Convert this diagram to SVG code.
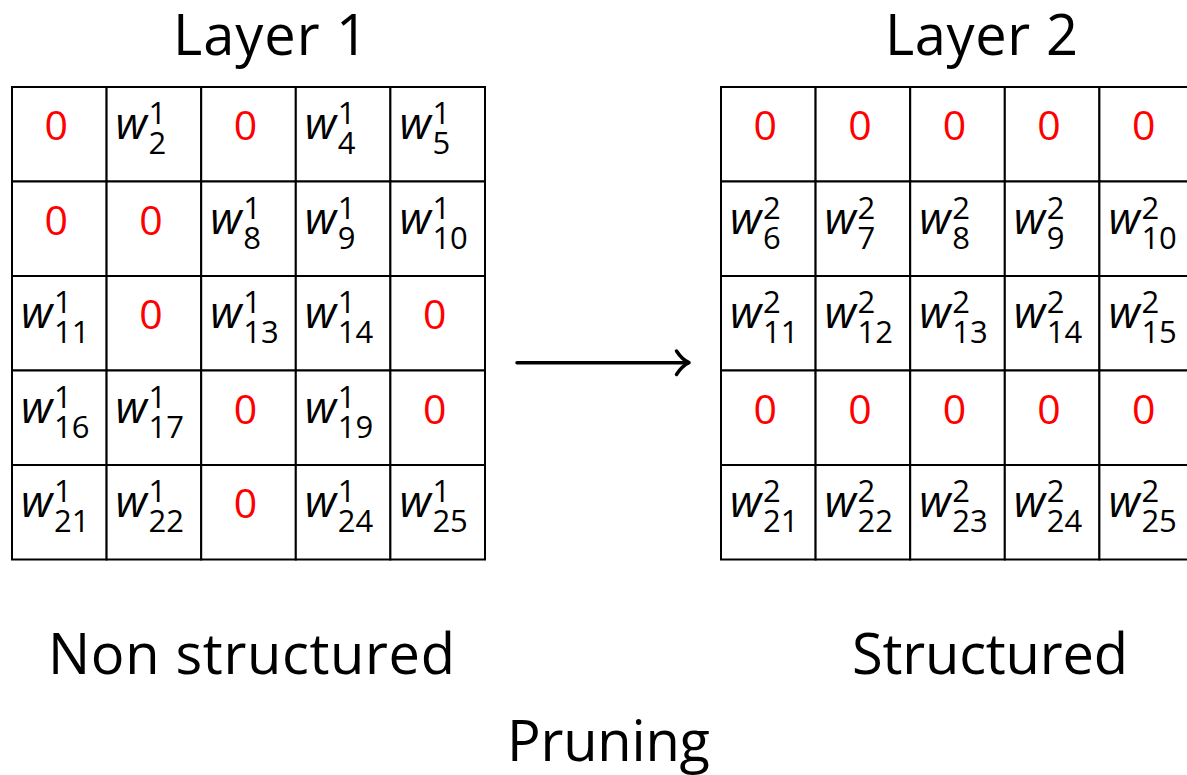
<svg xmlns="http://www.w3.org/2000/svg" width="1187" height="775" viewBox="0 0 1187 775">
  <style>
    .cell { fill: #ffffff; stroke: #000000; stroke-width: 2; }
    .label { font-family: "Open Sans", "Noto Sans", "Liberation Sans", sans-serif; font-size: 56px; fill: #000000; text-anchor: middle; }
    .zero { font-family: "Open Sans", "Noto Sans", "Liberation Sans", sans-serif; font-size: 41px; fill: #ff0000; text-anchor: middle; }
    .w { font-family: "Open Sans", "Noto Sans", "Liberation Sans", sans-serif; font-style: italic; font-size: 44px; fill: #000000; }
    .s { font-family: "Open Sans", "Noto Sans", "Liberation Sans", sans-serif; font-size: 31px; fill: #000000; }
    .arrow { fill: none; stroke: #000000; stroke-width: 3.5; stroke-linecap: round; stroke-linejoin: round; }
  </style>
  <rect width="1187" height="775" fill="#ffffff"/>

  <!-- titles -->
  <text class="label" x="270.5" y="55" textLength="195" lengthAdjust="spacing">Layer 1</text>
  <text class="label" x="981.5" y="55" textLength="193" lengthAdjust="spacing">Layer 2</text>

  <!-- Layer 1: non-structured pruning (scattered zeros) -->
  <g id="layer1">
    <g id="l1-r0">
      <rect class="cell" x="12" y="87" width="94.6" height="94.5"/><text class="zero" x="56.3" y="140">0</text>
      <rect class="cell" x="106.6" y="87" width="94.6" height="94.5"/><text class="w" x="115.6" y="139">w</text><text class="s" x="148.6" y="124">1</text><text class="s" x="148.6" y="154">2</text>
      <rect class="cell" x="201.2" y="87" width="94.6" height="94.5"/><text class="zero" x="245.5" y="140">0</text>
      <rect class="cell" x="295.8" y="87" width="94.6" height="94.5"/><text class="w" x="304.8" y="139">w</text><text class="s" x="337.8" y="124">1</text><text class="s" x="337.8" y="154">4</text>
      <rect class="cell" x="390.4" y="87" width="94.6" height="94.5"/><text class="w" x="399.4" y="139">w</text><text class="s" x="432.4" y="124">1</text><text class="s" x="432.4" y="154">5</text>
    </g>
    <g id="l1-r1">
      <rect class="cell" x="12" y="181.5" width="94.6" height="94.5"/><text class="zero" x="56.3" y="234.5">0</text>
      <rect class="cell" x="106.6" y="181.5" width="94.6" height="94.5"/><text class="zero" x="150.9" y="234.5">0</text>
      <rect class="cell" x="201.2" y="181.5" width="94.6" height="94.5"/><text class="w" x="210.2" y="233.5">w</text><text class="s" x="243.2" y="218.5">1</text><text class="s" x="243.2" y="248.5">8</text>
      <rect class="cell" x="295.8" y="181.5" width="94.6" height="94.5"/><text class="w" x="304.8" y="233.5">w</text><text class="s" x="337.8" y="218.5">1</text><text class="s" x="337.8" y="248.5">9</text>
      <rect class="cell" x="390.4" y="181.5" width="94.6" height="94.5"/><text class="w" x="399.4" y="233.5">w</text><text class="s" x="432.4" y="218.5">1</text><text class="s" x="432.4" y="248.5">10</text>
    </g>
    <g id="l1-r2">
      <rect class="cell" x="12" y="276" width="94.6" height="94.5"/><text class="w" x="21" y="328">w</text><text class="s" x="54" y="313">1</text><text class="s" x="54" y="343">11</text>
      <rect class="cell" x="106.6" y="276" width="94.6" height="94.5"/><text class="zero" x="150.9" y="329">0</text>
      <rect class="cell" x="201.2" y="276" width="94.6" height="94.5"/><text class="w" x="210.2" y="328">w</text><text class="s" x="243.2" y="313">1</text><text class="s" x="243.2" y="343">13</text>
      <rect class="cell" x="295.8" y="276" width="94.6" height="94.5"/><text class="w" x="304.8" y="328">w</text><text class="s" x="337.8" y="313">1</text><text class="s" x="337.8" y="343">14</text>
      <rect class="cell" x="390.4" y="276" width="94.6" height="94.5"/><text class="zero" x="434.7" y="329">0</text>
    </g>
    <g id="l1-r3">
      <rect class="cell" x="12" y="370.5" width="94.6" height="94.5"/><text class="w" x="21" y="422.5">w</text><text class="s" x="54" y="407.5">1</text><text class="s" x="54" y="437.5">16</text>
      <rect class="cell" x="106.6" y="370.5" width="94.6" height="94.5"/><text class="w" x="115.6" y="422.5">w</text><text class="s" x="148.6" y="407.5">1</text><text class="s" x="148.6" y="437.5">17</text>
      <rect class="cell" x="201.2" y="370.5" width="94.6" height="94.5"/><text class="zero" x="245.5" y="423.5">0</text>
      <rect class="cell" x="295.8" y="370.5" width="94.6" height="94.5"/><text class="w" x="304.8" y="422.5">w</text><text class="s" x="337.8" y="407.5">1</text><text class="s" x="337.8" y="437.5">19</text>
      <rect class="cell" x="390.4" y="370.5" width="94.6" height="94.5"/><text class="zero" x="434.7" y="423.5">0</text>
    </g>
    <g id="l1-r4">
      <rect class="cell" x="12" y="465" width="94.6" height="94.5"/><text class="w" x="21" y="517">w</text><text class="s" x="54" y="502">1</text><text class="s" x="54" y="532">21</text>
      <rect class="cell" x="106.6" y="465" width="94.6" height="94.5"/><text class="w" x="115.6" y="517">w</text><text class="s" x="148.6" y="502">1</text><text class="s" x="148.6" y="532">22</text>
      <rect class="cell" x="201.2" y="465" width="94.6" height="94.5"/><text class="zero" x="245.5" y="518">0</text>
      <rect class="cell" x="295.8" y="465" width="94.6" height="94.5"/><text class="w" x="304.8" y="517">w</text><text class="s" x="337.8" y="502">1</text><text class="s" x="337.8" y="532">24</text>
      <rect class="cell" x="390.4" y="465" width="94.6" height="94.5"/><text class="w" x="399.4" y="517">w</text><text class="s" x="432.4" y="502">1</text><text class="s" x="432.4" y="532">25</text>
    </g>
  </g>

  <!-- Layer 2: structured pruning (whole rows zeroed) -->
  <g id="layer2">
    <g id="l2-r0">
      <rect class="cell" x="721" y="87" width="94.6" height="94.5"/><text class="zero" x="765.3" y="140">0</text>
      <rect class="cell" x="815.6" y="87" width="94.6" height="94.5"/><text class="zero" x="859.9" y="140">0</text>
      <rect class="cell" x="910.2" y="87" width="94.6" height="94.5"/><text class="zero" x="954.5" y="140">0</text>
      <rect class="cell" x="1004.8" y="87" width="94.6" height="94.5"/><text class="zero" x="1049.1" y="140">0</text>
      <rect class="cell" x="1099.4" y="87" width="94.6" height="94.5"/><text class="zero" x="1143.7" y="140">0</text>
    </g>
    <g id="l2-r1">
      <rect class="cell" x="721" y="181.5" width="94.6" height="94.5"/><text class="w" x="730" y="233.5">w</text><text class="s" x="763" y="218.5">2</text><text class="s" x="763" y="248.5">6</text>
      <rect class="cell" x="815.6" y="181.5" width="94.6" height="94.5"/><text class="w" x="824.6" y="233.5">w</text><text class="s" x="857.6" y="218.5">2</text><text class="s" x="857.6" y="248.5">7</text>
      <rect class="cell" x="910.2" y="181.5" width="94.6" height="94.5"/><text class="w" x="919.2" y="233.5">w</text><text class="s" x="952.2" y="218.5">2</text><text class="s" x="952.2" y="248.5">8</text>
      <rect class="cell" x="1004.8" y="181.5" width="94.6" height="94.5"/><text class="w" x="1013.8" y="233.5">w</text><text class="s" x="1046.8" y="218.5">2</text><text class="s" x="1046.8" y="248.5">9</text>
      <rect class="cell" x="1099.4" y="181.5" width="94.6" height="94.5"/><text class="w" x="1108.4" y="233.5">w</text><text class="s" x="1141.4" y="218.5">2</text><text class="s" x="1141.4" y="248.5">10</text>
    </g>
    <g id="l2-r2">
      <rect class="cell" x="721" y="276" width="94.6" height="94.5"/><text class="w" x="730" y="328">w</text><text class="s" x="763" y="313">2</text><text class="s" x="763" y="343">11</text>
      <rect class="cell" x="815.6" y="276" width="94.6" height="94.5"/><text class="w" x="824.6" y="328">w</text><text class="s" x="857.6" y="313">2</text><text class="s" x="857.6" y="343">12</text>
      <rect class="cell" x="910.2" y="276" width="94.6" height="94.5"/><text class="w" x="919.2" y="328">w</text><text class="s" x="952.2" y="313">2</text><text class="s" x="952.2" y="343">13</text>
      <rect class="cell" x="1004.8" y="276" width="94.6" height="94.5"/><text class="w" x="1013.8" y="328">w</text><text class="s" x="1046.8" y="313">2</text><text class="s" x="1046.8" y="343">14</text>
      <rect class="cell" x="1099.4" y="276" width="94.6" height="94.5"/><text class="w" x="1108.4" y="328">w</text><text class="s" x="1141.4" y="313">2</text><text class="s" x="1141.4" y="343">15</text>
    </g>
    <g id="l2-r3">
      <rect class="cell" x="721" y="370.5" width="94.6" height="94.5"/><text class="zero" x="765.3" y="423.5">0</text>
      <rect class="cell" x="815.6" y="370.5" width="94.6" height="94.5"/><text class="zero" x="859.9" y="423.5">0</text>
      <rect class="cell" x="910.2" y="370.5" width="94.6" height="94.5"/><text class="zero" x="954.5" y="423.5">0</text>
      <rect class="cell" x="1004.8" y="370.5" width="94.6" height="94.5"/><text class="zero" x="1049.1" y="423.5">0</text>
      <rect class="cell" x="1099.4" y="370.5" width="94.6" height="94.5"/><text class="zero" x="1143.7" y="423.5">0</text>
    </g>
    <g id="l2-r4">
      <rect class="cell" x="721" y="465" width="94.6" height="94.5"/><text class="w" x="730" y="517">w</text><text class="s" x="763" y="502">2</text><text class="s" x="763" y="532">21</text>
      <rect class="cell" x="815.6" y="465" width="94.6" height="94.5"/><text class="w" x="824.6" y="517">w</text><text class="s" x="857.6" y="502">2</text><text class="s" x="857.6" y="532">22</text>
      <rect class="cell" x="910.2" y="465" width="94.6" height="94.5"/><text class="w" x="919.2" y="517">w</text><text class="s" x="952.2" y="502">2</text><text class="s" x="952.2" y="532">23</text>
      <rect class="cell" x="1004.8" y="465" width="94.6" height="94.5"/><text class="w" x="1013.8" y="517">w</text><text class="s" x="1046.8" y="502">2</text><text class="s" x="1046.8" y="532">24</text>
      <rect class="cell" x="1099.4" y="465" width="94.6" height="94.5"/><text class="w" x="1108.4" y="517">w</text><text class="s" x="1141.4" y="502">2</text><text class="s" x="1141.4" y="532">25</text>
    </g>
  </g>

  <!-- transformation arrow between the two layers -->
  <g id="connectors">
    <path class="arrow" d="M517,362.7 H688"/>
    <path class="arrow" d="M676.5,351 Q682,359.5 689,362.7 Q682,366 676.5,374.5"/>
  </g>

  <!-- captions -->
  <text class="label" x="251.5" y="674" textLength="407" lengthAdjust="spacing">Non structured</text>
  <text class="label" x="990" y="674" textLength="276" lengthAdjust="spacing">Structured</text>
  <text class="label" x="608.5" y="761" textLength="203" lengthAdjust="spacing">Pruning</text>
</svg>
